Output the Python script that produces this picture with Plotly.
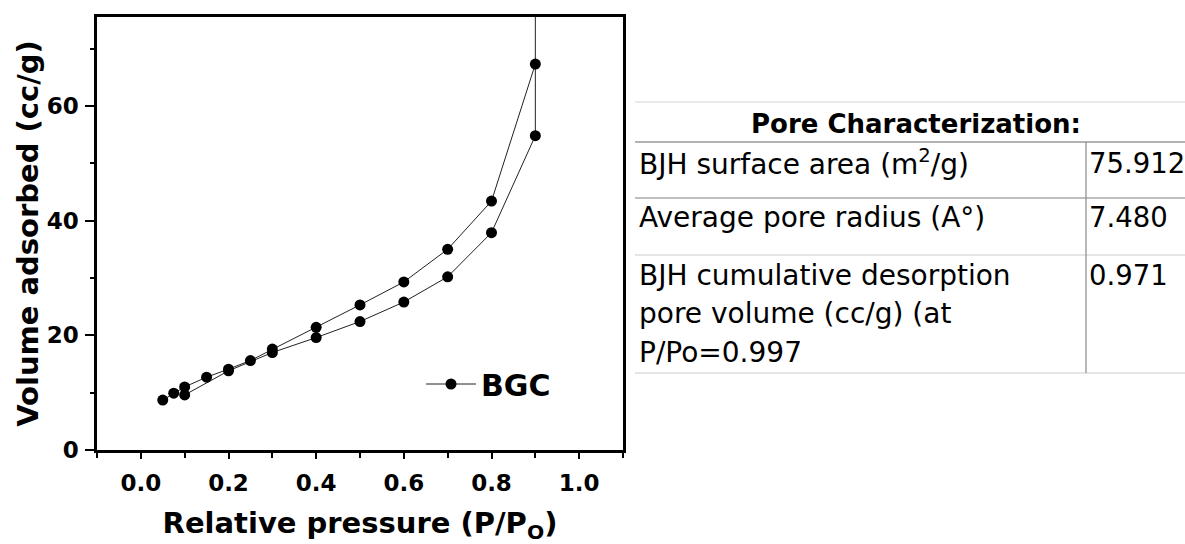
import plotly.graph_objects as go

W, H = 1185, 544

# ---- isotherm data ----
ads_p = [0.10, 0.20, 0.30, 0.40, 0.50, 0.60, 0.70, 0.80, 0.90, 0.90]
ads_v = [9.6, 13.8, 17.0, 19.6, 22.4, 25.8, 30.2, 37.9, 54.8, 80.0]
des_p = [0.90, 0.80, 0.70, 0.60, 0.50, 0.40, 0.30, 0.25, 0.20, 0.15, 0.10, 0.075, 0.05]
des_v = [67.3, 43.4, 35.0, 29.3, 25.3, 21.4, 17.6, 15.6, 14.1, 12.7, 11.0, 9.9, 8.7]
series_name = "BGC"

x_ticks = [0.0, 0.2, 0.4, 0.6, 0.8, 1.0]
x_tick_text = ["0.0", "0.2", "0.4", "0.6", "0.8", "1.0"]
y_ticks = [0, 20, 40, 60]
y_tick_text = ["0", "20", "40", "60"]

# ---- table data ----
table_title = "Pore Characterization:"
row_labels = [
    ["BJH surface area (m<sup>2</sup>/g)"],
    ["Average pore radius (A°)"],
    ["BJH cumulative desorption", "pore volume (cc/g) (at", "P/Po=0.997"],
]
row_values = ["75.912", "7.480", "0.971"]


def px(x):
    return x / W


def py(y):
    return 1 - y / H


fig = go.Figure()
mk = dict(symbol="circle", size=11, color="black")
ln = dict(color="#222222", width=1)
fig.add_trace(go.Scatter(x=ads_p, y=ads_v, mode="lines+markers", marker=mk, line=ln,
                         name=series_name, legendgroup="g", showlegend=True))
fig.add_trace(go.Scatter(x=des_p, y=des_v, mode="lines+markers", marker=mk, line=ln,
                         name=series_name, legendgroup="g", showlegend=False))

titlefont = dict(family="DejaVu Sans", size=29, color="black", weight="bold")
tickfont = dict(family="DejaVu Sans", size=23, color="black", weight="bold")

fig.update_layout(
    width=W, height=H,
    margin=dict(l=0, r=0, t=0, b=0),
    paper_bgcolor="white", plot_bgcolor="white",
    showlegend=True,
    legend=dict(x=px(421), y=py(384), xanchor="left", yanchor="middle",
                bgcolor="rgba(0,0,0,0)", itemwidth=50,
                font=dict(family="DejaVu Sans", size=30, color="black", weight="bold")),
    xaxis=dict(
        domain=[px(97), px(623)], range=[-0.1, 1.1],
        showline=True, mirror=True, linecolor="black", linewidth=2.5,
        showgrid=False, zeroline=False, automargin=False,
        tickmode="array", tickvals=x_ticks, ticktext=x_tick_text,
        ticks="outside", ticklen=6, tickwidth=1.5, tickcolor="black",
        minor=dict(dtick=0.1, tick0=0, ticks="outside", ticklen=5, tickwidth=1.5, tickcolor="black"),
        tickfont=tickfont, ticklabelstandoff=5,
        title=dict(text="Relative pressure (P/P<sub>O</sub>)", font=titlefont, standoff=27),
    ),
    yaxis=dict(
        domain=[1 - 450 / H, 1 - 17 / H], range=[0, 75.5],
        showline=True, mirror=True, linecolor="black", linewidth=2.5,
        showgrid=False, zeroline=False, automargin=False,
        tickmode="array", tickvals=y_ticks, ticktext=y_tick_text,
        ticks="outside", ticklen=9, tickwidth=1.5, tickcolor="black",
        minor=dict(dtick=10, tick0=0, ticks="outside", ticklen=4, tickwidth=1.5, tickcolor="black"),
        tickfont=tickfont, ticklabelstandoff=2,
        title=dict(text="Volume adsorbed (cc/g)", font=titlefont, standoff=0),
    ),
)

# ---- table drawn with shapes + annotations ----
tx0, tx1 = 635, 1185
hlines = [(102, "#e2e2e2"), (142, "#9a9a9a"), (198, "#a8a8a8"), (255, "#dcdcdc"), (373, "#dcdcdc")]
for yy, col in hlines:
    fig.add_shape(type="line", xref="paper", yref="paper",
                  x0=px(tx0), x1=px(tx1), y0=py(yy), y1=py(yy),
                  line=dict(color=col, width=1.5))
fig.add_shape(type="line", xref="paper", yref="paper",
              x0=px(1086), x1=px(1086), y0=py(142), y1=py(373),
              line=dict(color="#8a8a8a", width=1.2))

label_font = dict(family="DejaVu Sans", size=28, color="black")
value_font = dict(family="DejaVu Sans", size=27.5, color="black")
fig.add_annotation(xref="paper", yref="paper", x=px(916), y=py(124),
                   xanchor="center", yanchor="middle", showarrow=False,
                   text=table_title,
                   font=dict(family="DejaVu Sans", size=26, color="black", weight="bold"))

row_first_center = [163, 217, 275]
line_step = 38.5
for label_lines, val, yc in zip(row_labels, row_values, row_first_center):
    for k, t in enumerate(label_lines):
        fig.add_annotation(xref="paper", yref="paper", x=px(637), y=py(yc + k * line_step),
                           xanchor="left", yanchor="middle", showarrow=False,
                           text=t, font=label_font)
    fig.add_annotation(xref="paper", yref="paper", x=px(1087), y=py(yc),
                       xanchor="left", yanchor="middle", showarrow=False,
                       text=val, font=value_font)

fig.write_html("out.html")
